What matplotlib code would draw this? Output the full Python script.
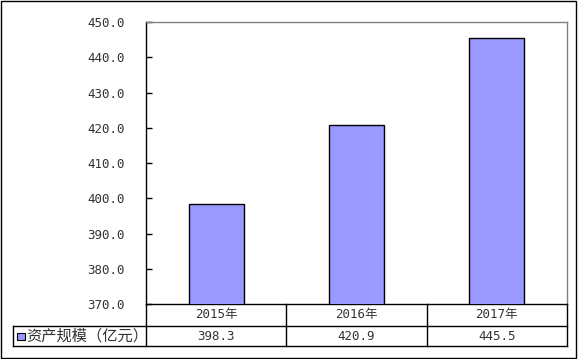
import matplotlib
matplotlib.use("Agg")
import matplotlib.pyplot as plt
from matplotlib.patches import Rectangle

plt.rcParams['font.family'] = ['DejaVu Sans Mono', 'Noto Sans CJK SC']

years = ['2015年', '2016年', '2017年']
values = [398.3, 420.9, 445.5]
series_name = '资产规模（亿元）'
yticks = [370, 380, 390, 400, 410, 420, 430, 440, 450]

bar_color = '#9999FF'

fig = plt.figure(figsize=(5.78, 3.59), dpi=100)
ax = fig.add_axes([0.2526, 0.1532, 0.7284, 0.7855])

x = range(len(years))
ax.bar(x, values, width=0.39, color=bar_color, edgecolor='black', linewidth=1.0, zorder=3)
ax.set_xlim(-0.5, len(years) - 0.5)
ax.set_ylim(370, 450)
ax.set_yticks(yticks)
ax.set_yticklabels(['%.1f' % v for v in yticks], fontsize=9, color='#333333')
ax.tick_params(axis='y', direction='in', length=4, width=1, pad=15, color='black')
ax.set_xticks([])

for side in ['top', 'right']:
    ax.spines[side].set_color('#808080')
    ax.spines[side].set_linewidth(1)
for side in ['left', 'bottom']:
    ax.spines[side].set_color('black')
    ax.spines[side].set_linewidth(1)

# data table below the plot (axes coordinates)
lab_w = 0.3156
th = 0.1507
mid = -0.078
n = len(years)
tr = ax.transAxes
kw = dict(color='black', linewidth=1, transform=tr, clip_on=False)
ax.plot([-lab_w, 1], [mid, mid], **kw)
ax.plot([-lab_w, 1], [-th, -th], **kw)
ax.plot([-lab_w, -lab_w], [mid, -th], **kw)
for i in range(n + 1):
    ax.plot([i / n, i / n], [0, -th], **kw)
for i in range(n):
    cx = (i + 0.5) / n
    ax.text(cx, mid / 2, years[i], transform=tr, ha='center', va='center', fontsize=9, color='#333333')
    ax.text(cx, (mid - th) / 2, '%.1f' % values[i], transform=tr, ha='center', va='center',
            fontsize=9, color='#333333')
ax.text(-lab_w + 0.032, (mid - th) / 2, series_name, transform=tr, ha='left', va='center',
        fontsize=11, family=['Noto Sans CJK SC'], color='#333333')

# legend key in the row label cell
ax.add_patch(Rectangle((-lab_w + 0.010, (mid - th) / 2 - 0.013), 0.018, 0.026,
                       transform=tr, facecolor=bar_color,
                       edgecolor='black', linewidth=0.8, clip_on=False))

# outer frame
fig.patches.append(Rectangle((0.0015, 0.004), 0.9955, 0.993, transform=fig.transFigure,
                             fill=False, edgecolor='black', linewidth=1))

fig.savefig('out.png', dpi=100)
